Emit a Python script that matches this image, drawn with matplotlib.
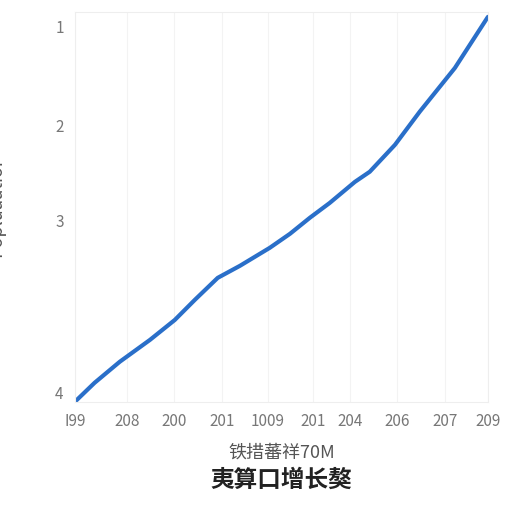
import matplotlib
matplotlib.use("Agg")
import matplotlib.pyplot as plt

plt.rcParams['font.family'] = ['Noto Sans CJK SC', 'DejaVu Sans']

x_vals = [0, 4.8, 10.9, 18.2, 24.2, 29.1, 34.6, 40.0, 47.2, 52.1, 56.9, 61.7, 67.8, 71.4, 77.5, 83.5, 92.0, 100]
y_vals = [0, 4.9, 10.3, 15.9, 21.0, 26.2, 31.8, 34.9, 39.5, 43.1, 47.2, 51.0, 56.4, 59.0, 65.9, 74.4, 85.6, 98.7]
x_ticks = [0, 12.6, 24.0, 35.6, 46.7, 57.6, 66.6, 78.0, 89.6, 100]
x_labels = ['I99', '208', '200', '201', '1009', '201', '204', '206', '207', '209']
y_ticks = [2.3, 46.4, 70.8, 96.2]
y_labels = ['4', '3', '2', '1']

fig = plt.figure(figsize=(5.12, 5.12), dpi=100)
ax = fig.add_axes([0.146, 0.215, 0.807, 0.762])
ax.plot(x_vals, y_vals, color='#2a6fc9', lw=3, solid_capstyle='round')
ax.set_xlim(0, 100)
ax.set_ylim(0, 100)
ax.set_xticks(x_ticks, x_labels)
ax.set_yticks(y_ticks, y_labels)
for s in ax.spines.values():
    s.set_color('#eeeeee')
ax.tick_params(length=0, colors='#777777', labelsize=11, pad=8)
ax.grid(axis='x', color='#f3f3f3')
ax.set_ylabel('Popluaatior', fontsize=13, color='#555555', labelpad=36)
ax.set_xlabel('铁措蕃祥70M', fontsize=13, color='#555555', labelpad=10)
fig.text(0.55, 0.05, '夷算口增长獒', ha='center', fontsize=17, fontweight='bold', color='#222222')
fig.savefig('out.png')
